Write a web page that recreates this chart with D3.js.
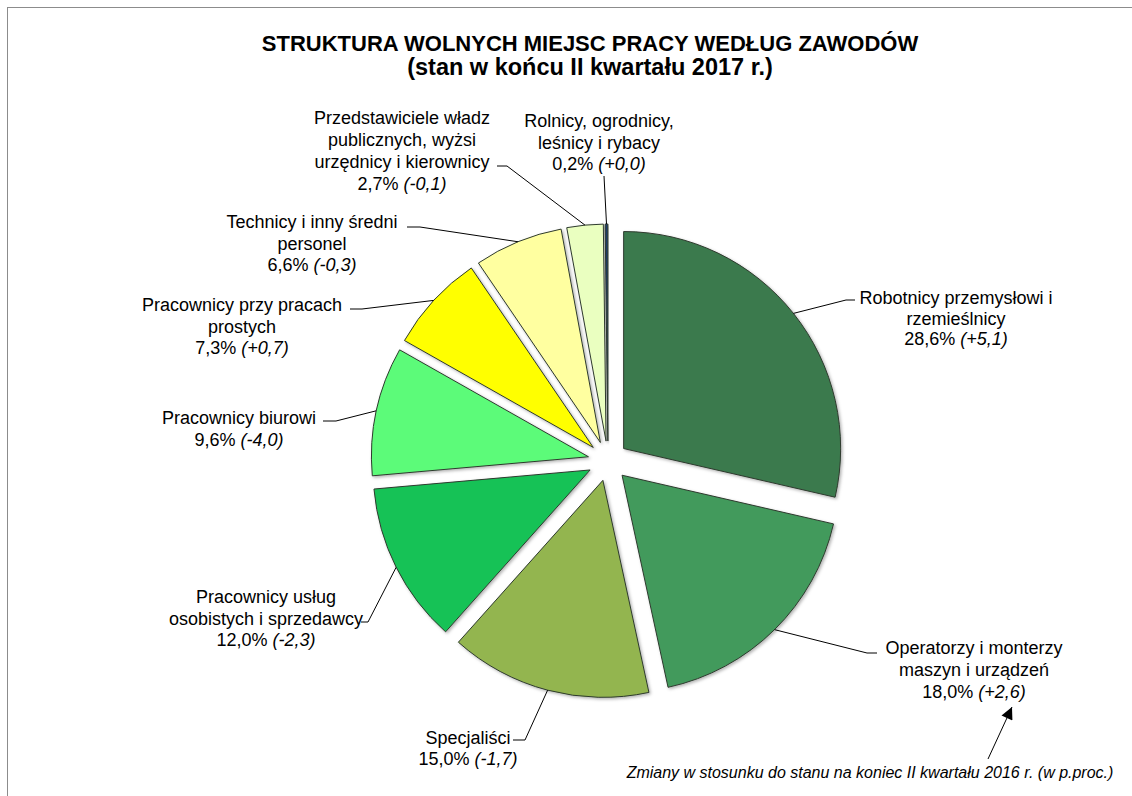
<!DOCTYPE html>
<html>
<head>
<meta charset="utf-8">
<script src="https://cdn.jsdelivr.net/npm/d3@7"></script>
<style>
  html, body { margin: 0; padding: 0; background: #fff; }
  svg { display: block; }
  text { font-family: "Liberation Sans", Arial, sans-serif; fill: #000; }
</style>
</head>
<body>
<svg id="chart" width="1132" height="796"></svg>
<script>
// ---- data ----
const categories = [
  "Robotnicy przemysłowi i rzemieślnicy",
  "Operatorzy i monterzy maszyn i urządzeń",
  "Specjaliści",
  "Pracownicy usług osobistych i sprzedawcy",
  "Pracownicy biurowi",
  "Pracownicy przy pracach prostych",
  "Technicy i inny średni personel",
  "Przedstawiciele władz publicznych, wyżsi urzędnicy i kierownicy",
  "Rolnicy, ogrodnicy, leśnicy i rybacy"
];
const labelLines = [
  ["Robotnicy przemysłowi i", "rzemieślnicy"],
  ["Operatorzy i monterzy", "maszyn i urządzeń"],
  ["Specjaliści"],
  ["Pracownicy usług", "osobistych i sprzedawcy"],
  ["Pracownicy biurowi"],
  ["Pracownicy przy pracach", "prostych"],
  ["Technicy i inny średni", "personel"],
  ["Przedstawiciele władz", "publicznych, wyżsi", "urzędnicy i kierownicy"],
  ["Rolnicy, ogrodnicy,", "leśnicy i rybacy"]
];
const shares = [28.6, 18.0, 15.0, 12.0, 9.6, 7.3, 6.6, 2.7, 0.2];
const changes = [5.1, 2.6, -1.7, -2.3, -4.0, 0.7, -0.3, -0.1, 0.0];
const colors = ["#3b7a4d", "#429a5c", "#93b54f", "#17c257", "#5cfb79",
                "#ffff00", "#ffffa0", "#eaffc0", "#1b3a66"];
const titleLines = ["STRUKTURA WOLNYCH MIEJSC PRACY WEDŁUG ZAWODÓW",
                    "(stan w końcu II kwartału 2017 r.)"];
const footnote = "Zmiany w stosunku do stanu na koniec II kwartału 2016 r. (w p.proc.)";

// ---- layout (positions only) ----
const cx = 608, cy = 461, R = 217, explode = 20;
const labelLayout = [
  {x: 956, y: 298, lh: 20.5, elbow: [846, 300], end: [855, 300]},
  {x: 974, y: 648, lh: 22,   elbow: [867, 653], end: [877, 653]},
  {x: 468, y: 738, lh: 21,   elbow: [525, 740], end: [513, 740]},
  {x: 266, y: 597, lh: 21.5, elbow: [368, 622], end: [361, 622]},
  {x: 239, y: 418, lh: 21.5, elbow: [336, 421], end: [323, 421]},
  {x: 242, y: 305, lh: 21.5, elbow: [362, 309], end: [350, 309]},
  {x: 312, y: 222, lh: 21.5, elbow: [420, 227], end: [407, 227]},
  {x: 402, y: 118, lh: 22,   elbow: [507, 166], end: [497, 166]},
  {x: 599, y: 121, lh: 21.5, elbow: [604, 176], end: [604, 176]}
];

const fmt1 = v => d3.format(".1f")(Math.abs(v)).replace(".", ",");
const fmtShare = v => d3.format(".1f")(v).replace(".", ",") + "%";
const fmtChange = v => "(" + (v < 0 ? "-" : "+") + fmt1(v) + ")";

const svg = d3.select("#chart");

// frame
svg.append("rect").attr("x", 7.5).attr("y", 7.5).attr("width", 1140).attr("height", 800)
  .attr("fill", "none").attr("stroke", "#8c8c8c").attr("stroke-width", 1);

// shadow filter
const defs = svg.append("defs");
const f = defs.append("filter").attr("id", "sh").attr("x", "-10%").attr("y", "-10%")
  .attr("width", "120%").attr("height", "120%");
f.append("feDropShadow").attr("dx", 1.5).attr("dy", 1.5).attr("stdDeviation", 1.5)
  .attr("flood-color", "#000").attr("flood-opacity", 0.3);

// title
svg.append("g").selectAll("text").data(titleLines).join("text")
  .attr("x", 590).attr("y", (d, i) => 43 + i * 24)
  .attr("text-anchor", "middle").attr("dominant-baseline", "central")
  .attr("font-weight", "bold").attr("font-size", (d, i) => i === 0 ? 22 : 23.5)
  .text(d => d);

// pie
const pie = d3.pie().sort(null).value(d => d).startAngle(0).endAngle(2 * Math.PI);
const arcs = pie(shares);
const arc = d3.arc().innerRadius(0).outerRadius(R);

const g = svg.append("g").attr("transform", `translate(${cx},${cy})`);
arcs.forEach(a => {
  a.mid = (a.startAngle + a.endAngle) / 2;
  a.ox = Math.sin(a.mid) * explode;
  a.oy = -Math.cos(a.mid) * explode;
});

g.selectAll("path.slice").data(arcs).join("path")
  .attr("class", "slice")
  .attr("transform", d => `translate(${d.ox},${d.oy})`)
  .attr("d", arc)
  .attr("fill", (d, i) => colors[i])
  .attr("stroke", "#2e3a2e").attr("stroke-width", 1)
  .attr("stroke-linejoin", "round")
  .attr("filter", "url(#sh)");

// leader lines
const leaders = svg.append("g").attr("fill", "none").attr("stroke", "#000").attr("stroke-width", 1);
arcs.forEach((a, i) => {
  const L = labelLayout[i];
  const sx = cx + a.ox + Math.sin(a.mid) * R;
  const sy = cy + a.oy - Math.cos(a.mid) * R;
  leaders.append("path").attr("d", d3.line()([[sx, sy], L.elbow, L.end]));
});

// labels
const labels = svg.append("g").attr("font-size", 18);
arcs.forEach((a, i) => {
  const L = labelLayout[i];
  const lines = labelLines[i];
  const t = labels.append("text").attr("text-anchor", "middle").attr("dominant-baseline", "central");
  lines.forEach((ln, k) => {
    t.append("tspan").attr("x", L.x).attr("y", L.y + k * L.lh).text(ln);
  });
  const vy = L.y + lines.length * L.lh;
  const t2 = labels.append("text").attr("text-anchor", "middle").attr("dominant-baseline", "central")
    .attr("x", L.x).attr("y", vy);
  t2.append("tspan").text(fmtShare(shares[i]) + " ");
  t2.append("tspan").attr("font-style", "italic").text(fmtChange(changes[i]));
});

// footnote + arrow
svg.append("text").attr("x", 870).attr("y", 772)
  .attr("text-anchor", "middle").attr("dominant-baseline", "central")
  .attr("font-style", "italic").attr("font-size", 16).text(footnote);

defs.append("marker").attr("id", "ah").attr("viewBox", "0 0 10 10")
  .attr("refX", 10).attr("refY", 5).attr("markerWidth", 18).attr("markerHeight", 12)
  .attr("markerUnits", "userSpaceOnUse").attr("orient", "auto")
  .append("path").attr("d", "M0,0 L10,5 L0,10 Z").attr("fill", "#000");
svg.append("line").attr("x1", 988).attr("y1", 759).attr("x2", 1012).attr("y2", 707)
  .attr("stroke", "#000").attr("stroke-width", 1).attr("marker-end", "url(#ah)");
</script>
</body>
</html>
